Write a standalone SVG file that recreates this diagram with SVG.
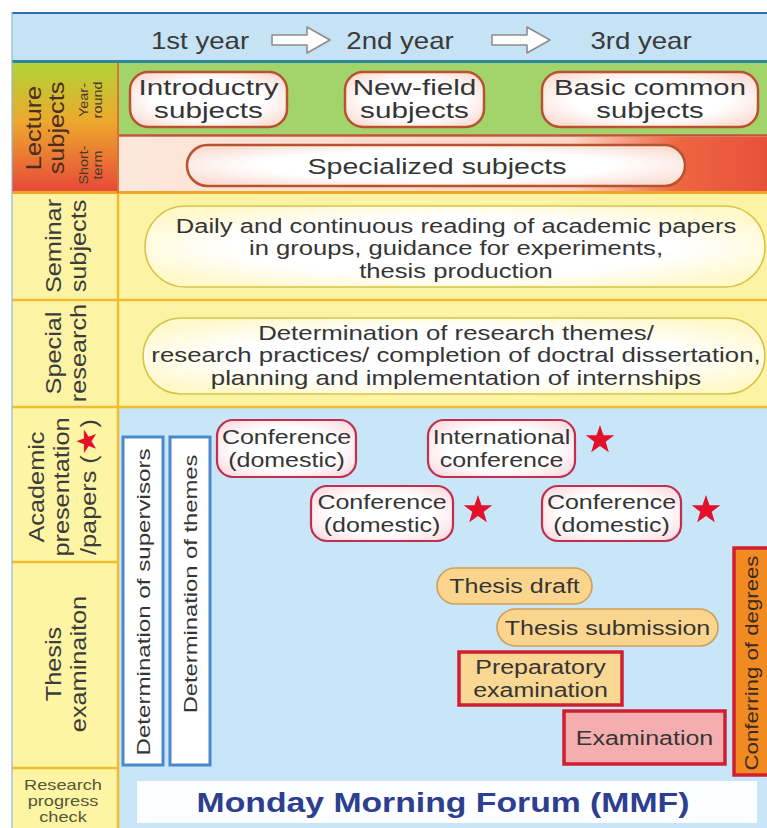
<svg xmlns="http://www.w3.org/2000/svg" width="767" height="828" viewBox="0 0 767 828">
<defs>
<style>
.t{font-family:"Liberation Sans",Arial,Helvetica,sans-serif;fill:#353535;text-anchor:middle}
.hdr{font-size:23px;fill:#3a3a3a}
.lb{font-size:22px}
.sp{font-size:22px}
.sm{font-size:20px}
.cf{font-size:20px}
.vt{font-size:19px}
.cd{font-size:17.5px;fill:#3a2a20}
.lab{font-size:22px;fill:#3c3c3c}
.labr{font-size:22px;fill:#4a2e22}
.tiny{font-size:12px;fill:#4a3a2a}
.rpc{font-size:14px;fill:#55553a}
.mmf{font-size:27px;font-weight:bold;fill:#2d3f8e}
.lbox{fill:url(#gWhitePink);stroke:#b9532e;stroke-width:2.5}
.ybox{fill:url(#gWhiteYel);stroke:#d7c247;stroke-width:1.6}
.cbox{fill:url(#gWhiteRose);stroke:#c22f4e;stroke-width:2.2}
.tbox{fill:#fbd58e;stroke:#cf9f5c;stroke-width:1.6}
.xbox{stroke:#cf1f30;stroke-width:3.5}
.dbox{fill:#ffffff;stroke:#4a88cc;stroke-width:3}
.star{fill:#e3102a}
.div{stroke:#f0bd2e;stroke-width:2.5}
</style>
<linearGradient id="gLect" x1="0" y1="0" x2="0" y2="1">
<stop offset="0" stop-color="#b2d335"/>
<stop offset="0.45" stop-color="#eda92d"/>
<stop offset="1" stop-color="#e8463a"/>
</linearGradient>
<linearGradient id="gShort" gradientUnits="userSpaceOnUse" x1="118" y1="0" x2="767" y2="0">
<stop offset="0" stop-color="#fde7db"/>
<stop offset="0.7" stop-color="#fbd6c6"/>
<stop offset="0.86" stop-color="#ee6642"/>
<stop offset="1" stop-color="#e8503a"/>
</linearGradient>
<radialGradient id="gWhitePink" cx="0.5" cy="0.5" r="0.6">
<stop offset="0.6" stop-color="#ffffff"/>
<stop offset="1" stop-color="#fbded6"/>
</radialGradient>
<radialGradient id="gWhiteYel" cx="0.5" cy="0.5" r="0.6">
<stop offset="0.6" stop-color="#ffffff"/>
<stop offset="1" stop-color="#fff8c8"/>
</radialGradient>
<radialGradient id="gWhiteRose" cx="0.5" cy="0.5" r="0.6">
<stop offset="0.6" stop-color="#ffffff"/>
<stop offset="1" stop-color="#fbe0e6"/>
</radialGradient>
<polygon id="star" points="0,-15 3.53,-4.85 14.27,-4.64 5.71,1.85 8.82,12.14 0,6 -8.82,12.14 -5.71,1.85 -14.27,-4.64 -3.53,-4.85"/>
</defs>

<rect x="0" y="0" width="767" height="828" fill="#ffffff"/>

<!-- backgrounds -->
<g id="backgrounds">
<rect x="12" y="12" width="755" height="50" fill="#c6e2f5"/>
<line x1="12" y1="13" x2="767" y2="13" stroke="#2f6fb0" stroke-width="2"/>
<line x1="12" y1="61.5" x2="767" y2="61.5" stroke="#2a86a0" stroke-width="3"/>
<rect x="12" y="63" width="106" height="130" fill="url(#gLect)"/>
<rect x="118" y="63" width="649" height="72" fill="#a3d36b"/>
<line x1="118" y1="135.5" x2="767" y2="135.5" stroke="#c4553a" stroke-width="2.5"/>
<rect x="118" y="137" width="649" height="54" fill="url(#gShort)"/>
<rect x="12" y="191" width="755" height="3.5" fill="#f2a425"/>
<rect x="12" y="194" width="755" height="213" fill="#fcf4a4"/>
<rect x="12" y="407" width="106" height="421" fill="#fdf5a3"/>
<rect x="118" y="407" width="649" height="421" fill="#c9e5f8"/>
<line x1="12" y1="300" x2="767" y2="300" class="div"/>
<line x1="12" y1="407" x2="767" y2="407" class="div"/>
<line x1="12" y1="562" x2="118" y2="562" class="div"/>
<line x1="12" y1="768" x2="118" y2="768" class="div"/>
<line x1="118" y1="63" x2="118" y2="193" stroke="#d9742c" stroke-width="2"/>
<line x1="118" y1="194" x2="118" y2="828" stroke="#f0bd2e" stroke-width="2.5"/>
<line x1="12" y1="12" x2="12" y2="828" stroke="#8fb6d8" stroke-width="1.2"/>
</g>

<!-- header -->
<g id="header">
<text class="t hdr" transform="translate(200,49) scale(1.2,1)">1st year</text>
<text class="t hdr" transform="translate(400,49) scale(1.2,1)">2nd year</text>
<text class="t hdr" transform="translate(641,49) scale(1.2,1)">3rd year</text>
</g>

<g id="connectors" fill="#ffffff" stroke="#8c8c8c" stroke-width="1.6" stroke-linejoin="round">
<path d="M272,35 H307 V27 L330,40 L307,53 V45 H272 Z"/>
<path d="M492,35 H527 V27 L550,40 L527,53 V45 H492 Z"/>
</g>

<!-- left labels -->
<g id="label-lecture">
<text class="t labr" transform="translate(41,128) rotate(-90) scale(1.15,1)">Lecture</text>
<text class="t labr" transform="translate(64,128) rotate(-90) scale(1.15,1)">subjects</text>
<text class="t tiny" transform="translate(88,100) rotate(-90) scale(1.2,1)">Year-</text>
<text class="t tiny" transform="translate(102,100) rotate(-90) scale(1.2,1)">round</text>
<text class="t tiny" transform="translate(88,165) rotate(-90) scale(1.2,1)">Short-</text>
<text class="t tiny" transform="translate(102,165) rotate(-90) scale(1.2,1)">term</text>
</g>
<g id="label-seminar">
<text class="t lab" transform="translate(61,246) rotate(-90) scale(1.15,1)">Seminar</text>
<text class="t lab" transform="translate(86,246) rotate(-90) scale(1.15,1)">subjects</text>
</g>
<g id="label-special">
<text class="t lab" transform="translate(61,353) rotate(-90) scale(1.15,1)">Special</text>
<text class="t lab" transform="translate(86,353) rotate(-90) scale(1.15,1)">research</text>
</g>
<g id="label-academic">
<text class="t lab" transform="translate(44,487) rotate(-90) scale(1.15,1)">Academic</text>
<text class="t lab" transform="translate(69,487) rotate(-90) scale(1.15,1)">presentation</text>
<text class="t lab" transform="translate(96,487) rotate(-90) scale(1.15,1)">/papers (<tspan fill="#e3102a" font-size="27" font-family="DejaVu Sans,sans-serif">★</tspan>)</text>
</g>
<g id="label-thesis">
<text class="t lab" transform="translate(61,664) rotate(-90) scale(1.15,1)">Thesis</text>
<text class="t lab" transform="translate(86,664) rotate(-90) scale(1.15,1)">examinaiton</text>
</g>
<g id="label-research">
<text class="t rpc" transform="translate(63,790) scale(1.3,1)">Research</text>
<text class="t rpc" transform="translate(63,806) scale(1.3,1)">progress</text>
<text class="t rpc" transform="translate(63,822) scale(1.3,1)">check</text>
</g>

<!-- lecture nodes -->
<g id="introductry">
<rect class="lbox" x="130" y="72" width="157" height="55" rx="18"/>
<text class="t lb" transform="translate(208.5,95) scale(1.35,1)">Introductry<tspan x="0" dy="23">subjects</tspan></text>
</g>
<g id="newfield">
<rect class="lbox" x="345" y="72" width="139" height="55" rx="18"/>
<text class="t lb" transform="translate(414.5,95) scale(1.35,1)">New-field<tspan x="0" dy="23">subjects</tspan></text>
</g>
<g id="basiccommon">
<rect class="lbox" x="542" y="72" width="216" height="55" rx="18"/>
<text class="t lb" transform="translate(650,95) scale(1.33,1)">Basic common<tspan x="0" dy="23">subjects</tspan></text>
</g>
<g id="specialized">
<rect class="lbox" x="187" y="145" width="498" height="41" rx="20.5"/>
<text class="t sp" transform="translate(437,174) scale(1.3,1)">Specialized subjects</text>
</g>

<!-- seminar / special research -->
<g id="seminar">
<rect class="ybox" x="145" y="206" width="620" height="81" rx="40"/>
<text class="t sm" transform="translate(456,233) scale(1.28,1)">Daily and continuous reading of academic papers<tspan x="0" dy="22.5">in groups, guidance for experiments,</tspan><tspan x="0" dy="22.5">thesis production</tspan></text>
</g>
<g id="special">
<rect class="ybox" x="143" y="318" width="622" height="76" rx="38"/>
<text class="t sm" transform="translate(456,340) scale(1.29,1)">Determination of research themes/<tspan x="0" dy="22.5">research practices/ completion of doctral dissertation,</tspan><tspan x="0" dy="22.5">planning and implementation of internships</tspan></text>
</g>

<!-- determination boxes -->
<g id="det-supervisors">
<rect class="dbox" x="123" y="437" width="40" height="328"/>
<text class="t vt" transform="translate(150,602) rotate(-90) scale(1.27,1)">Determination of supervisors</text>
</g>
<g id="det-themes">
<rect class="dbox" x="170" y="437" width="40" height="328"/>
<text class="t vt" transform="translate(197,584) rotate(-90) scale(1.25,1)">Determination of themes</text>
</g>

<!-- conferences -->
<g id="conf1">
<rect class="cbox" x="217" y="420" width="139" height="57" rx="16"/>
<text class="t cf" transform="translate(286.5,444) scale(1.25,1)">Conference<tspan x="0" dy="23">(domestic)</tspan></text>
</g>
<g id="intl">
<rect class="cbox" x="428" y="420" width="147" height="57" rx="16"/>
<text class="t cf" transform="translate(501.5,444) scale(1.25,1)">International<tspan x="0" dy="23">conference</tspan></text>
<use href="#star" class="star" x="600" y="440"/>
</g>
<g id="conf2">
<rect class="cbox" x="311" y="486" width="142" height="55" rx="16"/>
<text class="t cf" transform="translate(382,509) scale(1.25,1)">Conference<tspan x="0" dy="23">(domestic)</tspan></text>
<use href="#star" class="star" x="478" y="510"/>
</g>
<g id="conf3">
<rect class="cbox" x="542" y="486" width="139" height="55" rx="16"/>
<text class="t cf" transform="translate(611.5,509) scale(1.25,1)">Conference<tspan x="0" dy="23">(domestic)</tspan></text>
<use href="#star" class="star" x="706" y="510"/>
</g>

<!-- thesis -->
<g id="thesis-draft">
<rect class="tbox" x="437" y="568" width="155" height="36" rx="18"/>
<text class="t cf" transform="translate(514.5,593) scale(1.25,1)">Thesis draft</text>
</g>
<g id="thesis-submission">
<rect class="tbox" x="497" y="609" width="221" height="37" rx="18.5"/>
<text class="t cf" transform="translate(607.5,635) scale(1.25,1)">Thesis submission</text>
</g>
<g id="preparatory">
<rect class="xbox" fill="#fad792" x="459" y="652" width="163" height="53"/>
<text class="t cf" transform="translate(540.5,674) scale(1.25,1)">Preparatory<tspan x="0" dy="23">examination</tspan></text>
</g>
<g id="examination">
<rect class="xbox" fill="#f5aeb0" x="564" y="711" width="161" height="53"/>
<text class="t cf" transform="translate(644.5,745) scale(1.25,1)">Examination</text>
</g>
<g id="conferring">
<rect class="xbox" fill="#f28a22" x="734" y="548" width="42" height="227"/>
<text class="t cd" transform="translate(758,663) rotate(-90) scale(1.27,1)">Conferring of degrees</text>
</g>

<!-- MMF -->
<g id="mmf">
<rect x="137" y="781" width="620" height="42" fill="#fdfeff"/>
<text class="t mmf" transform="translate(443,812) scale(1.25,1)">Monday Morning Forum (MMF)</text>
</g>
</svg>
